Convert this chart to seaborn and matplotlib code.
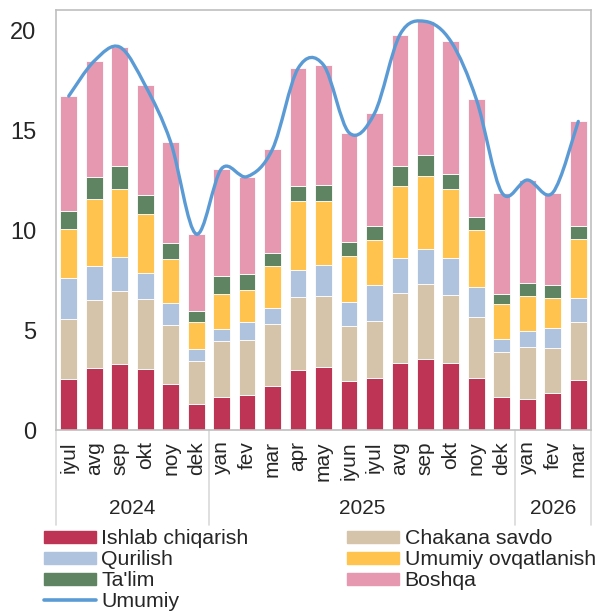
import numpy as np
import matplotlib
matplotlib.use("Agg")
import matplotlib.pyplot as plt
import seaborn as sns
from matplotlib.path import Path
from matplotlib.patches import PathPatch, Patch
from matplotlib.lines import Line2D

oylar = ["iyul", "avg", "sep", "okt", "noy", "dek",
         "yan", "fev", "mar", "apr", "may", "iyun", "iyul", "avg", "sep", "okt", "noy", "dek",
         "yan", "fev", "mar"]
yillar = ["2024", "2025", "2026"]
yil_oylar_soni = [6, 12, 3]

ishlab = [2.55, 3.10, 3.30, 3.03, 2.32, 1.30, 1.63, 1.75, 2.22, 2.98, 3.15, 2.43, 2.62,
          3.37, 3.57, 3.33, 2.62, 1.63, 1.57, 1.83, 2.50]
chakana = [2.98, 3.40, 3.63, 3.50, 2.91, 2.17, 2.80, 2.75, 3.06, 3.65, 3.57, 2.75, 2.81,
           3.48, 3.73, 3.42, 3.03, 2.25, 2.56, 2.25, 2.90]
qurilish = [2.09, 1.72, 1.70, 1.32, 1.10, 0.58, 0.64, 0.92, 0.82, 1.39, 1.53, 1.24, 1.80,
            1.73, 1.75, 1.85, 1.48, 0.69, 0.80, 1.04, 1.20]
ovqat = [2.41, 3.35, 3.44, 2.97, 2.22, 1.37, 1.73, 1.58, 2.10, 3.43, 3.22, 2.28, 2.27,
         3.62, 3.67, 3.47, 2.89, 1.71, 1.77, 1.48, 2.95]
talim = [0.94, 1.10, 1.15, 0.95, 0.82, 0.53, 0.90, 0.80, 0.67, 0.77, 0.80, 0.72, 0.72,
         1.02, 1.05, 0.75, 0.65, 0.52, 0.67, 0.65, 0.65]
boshqa = [5.73, 5.78, 5.93, 5.46, 5.03, 3.85, 5.37, 4.87, 5.18, 5.86, 5.98, 5.45, 5.61,
          6.55, 6.66, 6.61, 5.86, 5.07, 5.13, 4.62, 5.23]
umumiy = [16.70, 18.45, 19.15, 17.23, 14.40, 9.80, 13.07, 12.67, 14.05, 18.08, 18.25, 14.87,
          15.83, 19.77, 20.43, 19.43, 16.53, 11.87, 12.50, 11.87, 15.43]

seriyalar = [
    ("Ishlab chiqarish", ishlab, "#BE3455"),
    ("Chakana savdo", chakana, "#D5C4A9"),
    ("Qurilish", qurilish, "#AFC3DF"),
    ("Umumiy ovqatlanish", ovqat, "#FFC34E"),
    ("Ta'lim", talim, "#5F8461"),
    ("Boshqa", boshqa, "#E698B0"),
]
chiziq_rang = "#5B9BD5"

sns.set_style("white")
plt.rcParams["font.family"] = ["Liberation Sans", "DejaVu Sans"]

fig = plt.figure(figsize=(5.97, 6.11), dpi=100)
ax = fig.add_axes([0.0938, 0.2962, 0.8962, 0.6874])

x = list(range(len(oylar)))
pastki = np.zeros(len(oylar))
for nom, qiymat, rang in seriyalar:
    sns.barplot(x=x, y=qiymat, bottom=pastki, color=rang, saturation=1, width=0.66,
                edgecolor="white", linewidth=0.6, ax=ax)
    pastki = pastki + np.array(qiymat)

# Umumiy: silliq chiziq (Excel uslubidagi Bezier)
xs = np.array(x, dtype=float)
ys = np.array(umumiy)
verts = [(xs[0], ys[0])]
codes = [Path.MOVETO]
n = len(xs)
for i in range(n - 1):
    p0 = np.array([xs[max(i - 1, 0)], ys[max(i - 1, 0)]])
    p1 = np.array([xs[i], ys[i]])
    p2 = np.array([xs[i + 1], ys[i + 1]])
    p3 = np.array([xs[min(i + 2, n - 1)], ys[min(i + 2, n - 1)]])
    c1 = p1 + (p2 - p0) / 6
    c2 = p2 - (p3 - p1) / 6
    verts += [tuple(c1), tuple(c2), tuple(p2)]
    codes += [Path.CURVE4] * 3
ax.add_patch(PathPatch(Path(verts, codes), fill=False, edgecolor=chiziq_rang,
                       linewidth=2.4, capstyle="round", zorder=5))

ax.set_xlim(-0.5, len(oylar) - 0.5)
ax.set_ylim(0, 21)
ax.set_yticks([0, 5, 10, 15, 20])
ax.set_xticks(x)
ax.set_xticklabels(oylar, rotation=90, fontsize=15)
ax.tick_params(axis="y", length=0, pad=14, labelsize=17)
ax.tick_params(axis="x", length=0, pad=8)
for s in ax.spines.values():
    s.set_color("#BFBFBF")
    s.set_linewidth(1.2)

# yillar va ajratuvchi chiziqlar
trans = ax.get_xaxis_transform()
chegara = -0.5
chegaralar = [chegara]
for yil, soni in zip(yillar, yil_oylar_soni):
    ax.text(chegara + soni / 2, -0.188, yil, transform=trans, ha="center", va="center",
            fontsize=15)
    chegara += soni
    chegaralar.append(chegara)
for c in chegaralar:
    ax.add_line(Line2D([c, c], [0, -0.226], transform=trans, color="#D9D9D9",
                       linewidth=1.2, clip_on=False))

h = {nom: Patch(facecolor=rang, edgecolor=rang) for nom, _, rang in seriyalar}
h["Umumiy"] = Line2D([], [], color=chiziq_rang, linewidth=2.6)
tartib = ["Ishlab chiqarish", "Qurilish", "Ta'lim", "Umumiy",
          "Chakana savdo", "Umumiy ovqatlanish", "Boshqa"]
fig.legend([h[t] for t in tartib], tartib, ncol=2, loc="upper left",
           bbox_to_anchor=(0.0737, 0.1336), frameon=False, fontsize=15.3,
           handlelength=2.45, handleheight=0.52, handletextpad=0.24,
           labelspacing=0.094, columnspacing=4.66, borderpad=0, borderaxespad=0)

fig.savefig("out.png", dpi=100)
